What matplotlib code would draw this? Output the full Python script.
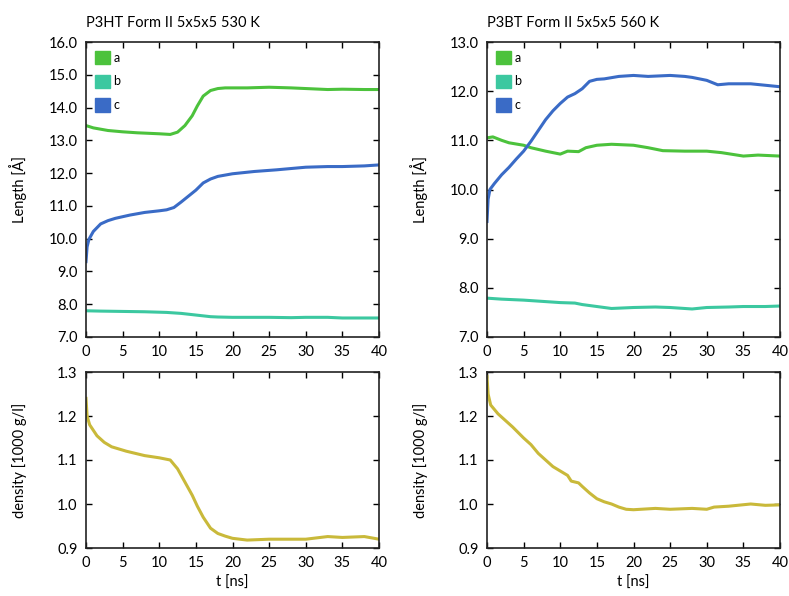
import matplotlib
matplotlib.use("Agg")
import matplotlib.pyplot as plt
from matplotlib.patches import Patch

plt.rcParams['font.family'] = ['Lato', 'DejaVu Sans']
plt.rcParams['font.size'] = 10.5

col_a = '#4cc23c'
col_b = '#3cc8a0'
col_c = '#3a6bc6'
col_d = '#c9b93a'

# left: P3HT 530 K
t_a1 = [0, 1, 3, 5, 7, 9, 10, 11.5, 12.5, 13.5, 14.5, 15.2, 16, 17, 18, 19, 22, 25, 28, 30, 33, 35, 38, 40]
a1 = [13.45, 13.38, 13.3, 13.26, 13.23, 13.21, 13.2, 13.18, 13.25, 13.45, 13.75, 14.05, 14.35, 14.52, 14.58, 14.6, 14.6, 14.62, 14.6, 14.58, 14.55, 14.56, 14.55, 14.55]
t_b1 = [0, 2, 5, 8, 11, 13, 15, 17, 18, 20, 22, 25, 28, 30, 33, 35, 38, 40]
b1 = [7.8, 7.79, 7.78, 7.77, 7.75, 7.72, 7.67, 7.62, 7.61, 7.6, 7.6, 7.6, 7.59, 7.6, 7.6, 7.58, 7.58, 7.58]
t_c1 = [0, 0.15, 0.4, 1, 2, 3, 4, 6, 8, 10, 11, 12, 13, 14, 15, 16, 17, 18, 20, 23, 26, 30, 33, 35, 38, 40]
c1 = [9.3, 9.75, 9.98, 10.22, 10.45, 10.55, 10.62, 10.72, 10.8, 10.85, 10.88, 10.95, 11.12, 11.3, 11.48, 11.7, 11.82, 11.9, 11.98, 12.05, 12.1, 12.18, 12.2, 12.2, 12.22, 12.25]
t_d1 = [0, 0.15, 0.5, 1.5, 2.5, 3.5, 5.5, 8, 10, 11.5, 12.5, 13.5, 14.5, 15.2, 16, 17, 18, 19, 20, 22, 25, 30, 33, 35, 38, 40]
d1 = [1.24, 1.2, 1.18, 1.155, 1.14, 1.13, 1.12, 1.11, 1.105, 1.1, 1.08, 1.05, 1.02, 0.995, 0.97, 0.945, 0.933, 0.927, 0.922, 0.918, 0.92, 0.92, 0.926, 0.924, 0.926, 0.92]

# right: P3BT 560 K
t_a2 = [0, 0.8, 2, 3, 5, 6, 8, 10, 11, 12.5, 13.5, 15, 17, 20, 22, 24, 27, 30, 32, 35, 37, 40]
a2 = [11.05, 11.07, 11.0, 10.95, 10.9, 10.85, 10.78, 10.72, 10.78, 10.77, 10.85, 10.9, 10.92, 10.9, 10.85, 10.79, 10.78, 10.78, 10.75, 10.68, 10.7, 10.68]
t_b2 = [0, 2, 5, 8, 10, 12, 13, 15, 17, 20, 23, 25, 28, 30, 33, 35, 38, 40]
b2 = [7.79, 7.77, 7.75, 7.72, 7.7, 7.69, 7.66, 7.62, 7.58, 7.6, 7.61, 7.6, 7.57, 7.6, 7.61, 7.62, 7.62, 7.63]
t_c2 = [0, 0.15, 0.4, 1, 2, 3, 4, 5, 6, 7, 8, 9, 10, 11, 12, 13, 14, 15, 16, 18, 20, 22, 25, 27, 28, 30, 31.5, 33, 36, 38, 40]
c2 = [9.35, 9.8, 10.0, 10.12, 10.3, 10.45, 10.62, 10.78, 10.98, 11.2, 11.42, 11.6, 11.75, 11.88, 11.95, 12.05, 12.2, 12.24, 12.25, 12.3, 12.32, 12.3, 12.32, 12.3, 12.28, 12.22, 12.13, 12.15, 12.15, 12.12, 12.09]
t_d2 = [0, 0.15, 0.5, 1.5, 2.5, 3.5, 5, 6, 7, 8, 9, 10, 11, 11.5, 12.5, 13, 14, 15, 16, 17, 18, 19, 20, 23, 25, 28, 30, 31, 33, 36, 38, 40]
d2 = [1.29, 1.25, 1.225, 1.205, 1.19, 1.175, 1.15, 1.135, 1.115, 1.1, 1.085, 1.075, 1.065, 1.052, 1.048, 1.04, 1.025, 1.012, 1.005, 1.0, 0.993, 0.988, 0.987, 0.99, 0.988, 0.99, 0.988, 0.993, 0.995, 1.0, 0.997, 0.998]

titles = ['P3HT Form II 5x5x5 530 K', 'P3BT Form II 5x5x5 560 K']
len_lim = [(7.0, 16.0), (7.0, 13.0)]
xticks = [0, 5, 10, 15, 20, 25, 30, 35, 40]

fig = plt.figure(figsize=(7.89, 5.96), dpi=100)
W, H = 789.0, 596.0
lefts = [86, 487]
aw = 293
panels = [(t_a1, a1, t_b1, b1, t_c1, c1, t_d1, d1),
          (t_a2, a2, t_b2, b2, t_c2, c2, t_d2, d2)]


def style(ax):
    ax.tick_params(direction='in', top=True, right=True, length=4, width=1, pad=6)
    for s in ax.spines.values():
        s.set_linewidth(1.2)
        s.set_color('#222222')
    ax.set_xlim(0, 40)
    ax.set_xticks(xticks)


for i in range(2):
    ta, ya, tb, yb, tc, yc, td, yd = panels[i]
    ax1 = fig.add_axes([lefts[i] / W, 1 - 337 / H, aw / W, 295 / H])
    ax1.plot(ta, ya, color=col_a, lw=2.2)
    ax1.plot(tb, yb, color=col_b, lw=2.2)
    ax1.plot(tc, yc, color=col_c, lw=2.2)
    style(ax1)
    lo, hi = len_lim[i]
    ax1.set_ylim(lo, hi)
    ax1.set_yticks([v for v in range(int(lo), int(hi) + 1)])
    ax1.yaxis.set_major_formatter(plt.FormatStrFormatter('%.1f'))
    ax1.set_ylabel('Length [Å]')
    ax1.yaxis.set_label_coords(-0.2, 0.5)
    ax1.set_title(titles[i], loc='left', fontsize=10.5, pad=11)
    handles = [Patch(color=col_a, label='a'), Patch(color=col_b, label='b'), Patch(color=col_c, label='c')]
    ax1.legend(handles=handles, loc='upper left', frameon=False, handlelength=1.25, handleheight=1.25,
               handletextpad=0.25, labelspacing=0.85, borderaxespad=0.3, fontsize=9)

    ax2 = fig.add_axes([lefts[i] / W, 1 - 548 / H, aw / W, 176 / H])
    ax2.plot(td, yd, color=col_d, lw=2.2)
    style(ax2)
    ax2.set_ylim(0.9, 1.3)
    ax2.set_yticks([0.9, 1.0, 1.1, 1.2, 1.3])
    ax2.yaxis.set_major_formatter(plt.FormatStrFormatter('%.1f'))
    ax2.set_ylabel('density [1000 g/l]')
    ax2.yaxis.set_label_coords(-0.2, 0.5)
    ax2.set_xlabel('t [ns]')
    ax2.xaxis.set_label_coords(0.5, -0.16)

fig.savefig('out.png', dpi=100)
